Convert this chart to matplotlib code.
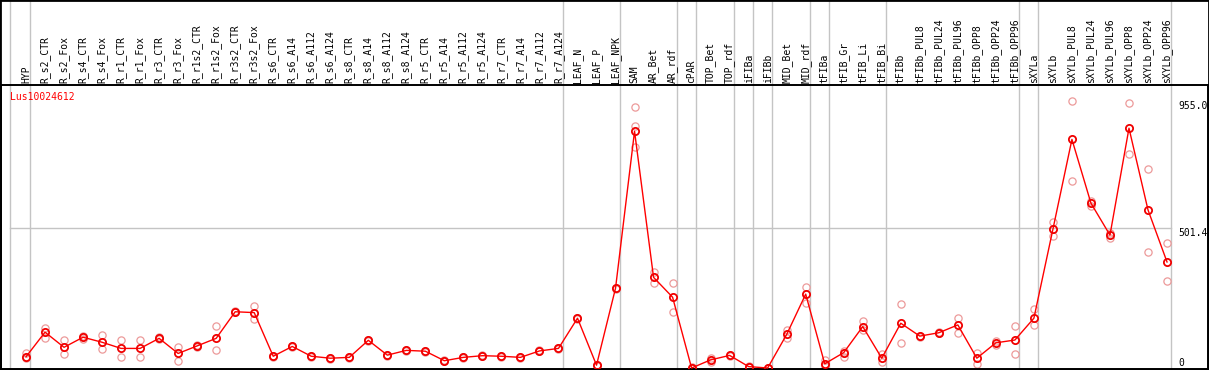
import numpy as np
import matplotlib
matplotlib.use("Agg")
import matplotlib.pyplot as plt
from matplotlib.patches import Rectangle

title = "Lus10024612"

categories = ["HYP", "R_s2_CTR", "R_s2_Fox", "R_s4_CTR", "R_s4_Fox", "R_r1_CTR", "R_r1_Fox",
              "R_r3_CTR", "R_r3_Fox", "R_r1s2_CTR", "R_r1s2_Fox", "R_r3s2_CTR", "R_r3s2_Fox",
              "R_s6_CTR", "R_s6_A14", "R_s6_A112", "R_s6_A124", "R_s8_CTR", "R_s8_A14",
              "R_s8_A112", "R_s8_A124", "R_r5_CTR", "R_r5_A14", "R_r5_A112", "R_r5_A124",
              "R_r7_CTR", "R_r7_A14", "R_r7_A112", "R_r7_A124", "LEAF_N", "LEAF_P", "LEAF_NPK",
              "SAM", "AR_Bet", "AR_rdf", "cPAR", "TOP_Bet", "TOP_rdf", "iFIBa", "iFIBb",
              "MID_Bet", "MID_rdf", "tFIBa", "tFIB_Gr", "tFIB_Li", "tFIB_Bi", "tFIBb",
              "tFIBb_PUL8", "tFIBb_PUL24", "tFIBb_PUL96", "tFIBb_OPP8", "tFIBb_OPP24",
              "tFIBb_OPP96", "sXYLa", "sXYLb", "sXYLb_PUL8", "sXYLb_PUL24", "sXYLb_PUL96",
              "sXYLb_OPP8", "sXYLb_OPP24", "sXYLb_OPP96"]

group_sizes = [1, 28, 3, 3, 1, 2, 1, 1, 2, 1, 3, 7, 1, 7]

mean_values = [40, 128, 74, 110, 92, 70, 70, 106, 52, 79, 106, 201, 198,
               42, 77, 42, 35, 38, 99, 46, 63, 60, 26, 38, 44, 42, 38, 61, 70,
               178, 10, 285, 846, 324, 253, 0, 29, 45, 5, 0, 120, 264, 15, 55, 148, 35,
               160, 114, 126, 154, 35, 90, 100, 178, 496, 817, 589, 475, 857, 565, 379]

rep_a = [55, 144, 100, 114, 118, 100, 100, 110, 74, 82, 150, 203, 223,
         44, 79, 44, 37, 40, 101, 48, 65, 62, 28, 40, 46, 44, 40, 63, 72,
         180, 12, 287, 932, 343, 303, 2, 37, 47, 8, 1, 136, 288, 29, 61, 168, 51,
         228, 116, 128, 178, 55, 97, 150, 211, 523, 955, 598, 481, 948, 711, 446]

rep_b = [35, 106, 50, 104, 67, 40, 40, 102, 26, 76, 63, 199, 174,
         40, 75, 40, 33, 36, 97, 44, 61, 58, 24, 36, 42, 40, 36, 59, 68,
         176, 8, 283, 865, 305, 200, 0, 23, 43, 2, 0, 106, 233, 8, 38, 136, 21,
         88, 112, 124, 124, 14, 83, 49, 154, 472, 668, 579, 465, 764, 413, 311]

rep_c = [np.nan] * 61
rep_c[32] = 791

y_ticks = [955.0, 501.4, 0]
y_tick_labels = ["955.0", "501.4", "0"]

W, H = 1209, 370
x0_px, dx_px = 26.0, 19.017
fig = plt.figure(figsize=(W / 100, H / 100), dpi=100)
ax = fig.add_axes([1 / W, 1 / H, 1207 / W, 284 / H])
ax.set_xlim((1 - x0_px) / dx_px, (1208 - x0_px) / dx_px)
k = 0.2798
ax.set_ylim(-1 / k, 283 / k)
ax.set_xticks([])
ax.set_yticks([])
for s in ax.spines.values():
    s.set_color("black")
    s.set_linewidth(1.4)

font = dict(family="DejaVu Sans Mono", size=7)
grey = "#c4c4c4"
top_frac = 369 / 284

# group separators
left_line = (10 - x0_px) / dx_px
seps = [left_line]
end = -1
for g in group_sizes:
    end += g
    seps.append(end + 0.22)
for s in seps:
    ax.axvline(s, ymin=0, ymax=top_frac, color=grey, lw=1.0, clip_on=False, zorder=1)

ax.plot([left_line, seps[-1]], [y_ticks[1], y_ticks[1]], color=grey, lw=1.0, zorder=1)

x = np.arange(len(categories))
rep_color = "#ec9a9a"
for reps in (rep_a, rep_b, rep_c):
    ax.plot(x, reps, ls="none", marker="o", ms=5.2, mfc="none", mec=rep_color,
            mew=0.9, zorder=2, clip_on=False)
ax.plot(x, mean_values, color="#ff0000", lw=1.0, marker="o", ms=5.2, mfc="none",
        mec="#f00000", mew=1.3, zorder=3, clip_on=False)

# category labels
for i, c in enumerate(categories):
    ax.text(i, 1 + 2 / 284, c, rotation=90, ha="center", va="bottom",
            transform=ax.get_xaxis_transform(), color="black", **font)

# right labels
xr = (1178 - x0_px) / dx_px
ax.text(xr, y_ticks[0], y_tick_labels[0], ha="left", va="top", color="black", **font)
ax.text(xr, y_ticks[1], y_tick_labels[1], ha="left", va="top", color="black", **font)
ax.text(xr, y_ticks[2], y_tick_labels[2], ha="left", va="bottom", color="black", **font)

ax.text(left_line, (369 - 97) / 284, title, ha="left", va="center", color="#ff0000",
        transform=ax.get_xaxis_transform(), **font)

fig.patches.append(Rectangle((0, 0), 1, 1, transform=fig.transFigure, fill=False,
                             edgecolor="black", lw=2.0, zorder=10))

fig.savefig("out.png", dpi=100)
